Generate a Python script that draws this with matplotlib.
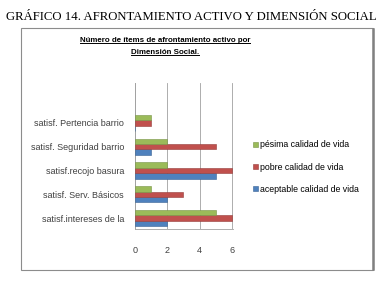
import matplotlib.pyplot as plt
import numpy as np
from matplotlib.patches import Rectangle
from matplotlib.lines import Line2D

# data, bottom to top as in the chart
categories = ["satisf.intereses de la", "satisf. Serv. Básicos", "satisf.recojo basura",
              "satisf. Seguridad barrio", "satisf. Pertencia barrio"]
aceptable = [2, 2, 5, 1, 0]
pobre = [6, 3, 6, 5, 1]
pesima = [5, 1, 2, 2, 1]
series_names = ["aceptable calidad de vida", "pobre calidad de vida", "pésima calidad de vida"]
xticks = [0, 2, 4, 6]

W, H = 383, 282
fig = plt.figure(figsize=(W / 100, H / 100), dpi=100)


def fx(px):
    return px / W


def fy(py):
    return 1 - py / H


# outer chart frame with shadow
fig.patches.append(Rectangle((fx(21), fy(270)), fx(352), 242 / H, transform=fig.transFigure,
                             fill=False, edgecolor="#8c8c8c", linewidth=0.8))
fig.lines.append(Line2D([fx(373), fx(373)], [fy(269), fy(29)], transform=fig.transFigure,
                        color="#808080", linewidth=1.8))

# headline
fig.text(0.5, fy(17), "GRÁFICO 14. AFRONTAMIENTO ACTIVO Y DIMENSIÓN SOCIAL",
         family="Liberation Serif", fontsize=9.2, ha="center", va="center")

# inner title (underlined)
t1 = fig.text(fx(165), fy(40.5), "Número de ítems de afrontamiento activo por",
              family="Liberation Sans", fontweight="bold",
              fontsize=5.7, ha="center", va="center")
t2 = fig.text(fx(165), fy(52.5), "Dimensión Social.",
              family="Liberation Sans", fontweight="bold",
              fontsize=5.7, ha="center", va="center")

ax = fig.add_axes([fx(135), fy(229), 97.7 / W, 146 / H])
y = np.arange(len(categories))
h = 0.23
cols = ["#4F81BD", "#C0504D", "#9BBB59"]
edges = ["#3a6394", "#943c3a", "#779345"]
for i, (vals, name) in enumerate(zip([aceptable, pobre, pesima], series_names)):
    ax.barh(y + (i - 1) * h, vals, height=h, color=cols[i], edgecolor=edges[i],
            linewidth=0.4, label=name, zorder=3)

ax.set_xlim(0, 6.05)
ax.set_ylim(-0.46, 5.68)
ax.set_xticks(xticks)
ax.set_yticks(y)
ax.set_yticklabels(categories)
ax.tick_params(length=0, labelsize=6.5, colors="#404040")
ax.tick_params(axis="x", pad=12)
ax.tick_params(axis="y", pad=8)
for lab in ax.get_xticklabels() + ax.get_yticklabels():
    lab.set_family("Liberation Sans")
ax.grid(axis="x", color="#a0a0a0", linewidth=0.6, zorder=0)
for s in ["top", "right"]:
    ax.spines[s].set_visible(False)
ax.spines["left"].set_color("#a0a0a0")
ax.spines["bottom"].set_color("#a0a0a0")
ax.spines["left"].set_linewidth(0.6)
ax.spines["bottom"].set_linewidth(0.6)

handles, labels = ax.get_legend_handles_labels()
fig.legend(handles[::-1], labels[::-1], loc="center left",
           bbox_to_anchor=(fx(245), fy(167)), frameon=False,
           prop={"family": "Liberation Sans", "size": 6.3},
           handlelength=0.6, handleheight=0.6, handletextpad=0.25, labelspacing=1.5)

# underline the inner title
fig.canvas.draw()
r = fig.canvas.get_renderer()
for t in (t1, t2):
    bb = t.get_window_extent(r).transformed(fig.transFigure.inverted())
    fig.lines.append(Line2D([bb.x0, bb.x1], [bb.y0 + 0.004, bb.y0 + 0.004],
                            transform=fig.transFigure, color="black", linewidth=0.7))

fig.savefig("out.png", dpi=100)
